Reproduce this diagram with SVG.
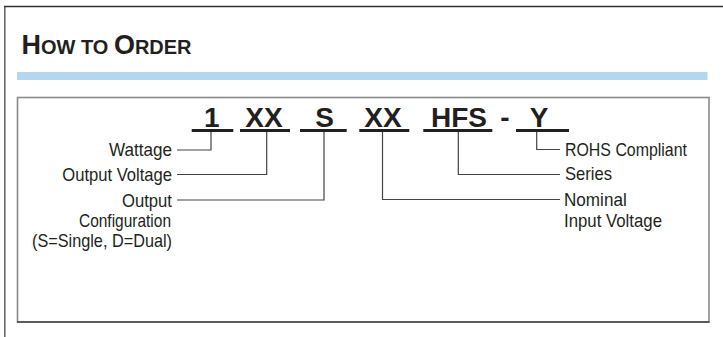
<svg xmlns="http://www.w3.org/2000/svg" width="723" height="337" viewBox="0 0 723 337">
<style>
.lbl{font-family:"Liberation Sans",Arial,sans-serif;font-size:18.5px;fill:#231f20}
.code{font-family:"Liberation Sans",Arial,sans-serif;font-size:28px;font-weight:bold;fill:#231f20;text-anchor:middle}
.ul{stroke:#231f20;stroke-width:3;fill:none}
.con{stroke:#444;stroke-width:1.2;fill:none}
.title{font-family:"Liberation Sans",Arial,sans-serif;font-weight:bold;fill:#231f20}
</style>
<rect width="723" height="337" fill="#fff"/>
<g id="frame">
<line x1="4.8" y1="6" x2="4.8" y2="337" stroke="#666" stroke-width="1.6"/>
<line x1="4" y1="6.5" x2="723" y2="6.5" stroke="#333" stroke-width="1.6"/>
<rect x="17" y="72" width="690.5" height="8" fill="#b3d7ee"/>
<rect x="17.5" y="97.5" width="691.5" height="224.5" fill="none" stroke="#8a8a8a" stroke-width="1.6"/>
<line x1="17" y1="322" x2="709.5" y2="322" stroke="#444" stroke-width="1.4"/>
</g>
<g id="title">
<text class="title" x="21.5" y="54.3" textLength="170" lengthAdjust="spacingAndGlyphs"><tspan font-size="27">H</tspan><tspan font-size="20">OW TO </tspan><tspan font-size="27">O</tspan><tspan font-size="20">RDER</tspan></text>
</g>
<g id="code">
<text class="code" x="211.7" y="126.5">1</text>
<text class="code" x="264" y="126.5">XX</text>
<text class="code" x="324.5" y="126.5">S</text>
<text class="code" x="383" y="126.5">XX</text>
<text class="code" x="459" y="126.5">HFS</text>
<text class="code" x="505" y="126.5">-</text>
<text class="code" x="539" y="126.5">Y</text>
<line class="ul" x1="191.7" y1="130.5" x2="233.3" y2="130.5"/>
<line class="ul" x1="240" y1="130.5" x2="290" y2="130.5"/>
<line class="ul" x1="300" y1="130.5" x2="346.7" y2="130.5"/>
<line class="ul" x1="359.3" y1="130.5" x2="409.3" y2="130.5"/>
<line class="ul" x1="423.3" y1="130.5" x2="492.3" y2="130.5"/>
<line class="ul" x1="516" y1="130.5" x2="569" y2="130.5"/>
</g>
<g id="connectors">
<path class="con" d="M211,132 V150 H177"/>
<path class="con" d="M266.7,132 V174.5 H177"/>
<path class="con" d="M324,132 V200 H177"/>
<path class="con" d="M382.5,132 V199.5 H560"/>
<path class="con" d="M458.3,132 V174.5 H560"/>
<path class="con" d="M536.7,132 V149.5 H560"/>
</g>
<g id="wattage"><text class="lbl" x="172" y="156" text-anchor="end" textLength="63" lengthAdjust="spacingAndGlyphs">Wattage</text></g>
<g id="output-voltage"><text class="lbl" x="172" y="180.5" text-anchor="end" textLength="109.7" lengthAdjust="spacingAndGlyphs">Output Voltage</text></g>
<g id="output-config">
<text class="lbl" x="172" y="206.5" text-anchor="end" textLength="50" lengthAdjust="spacingAndGlyphs">Output</text>
<text class="lbl" x="171" y="226.7" text-anchor="end" textLength="92" lengthAdjust="spacingAndGlyphs">Configuration</text>
<text class="lbl" x="172" y="246.7" text-anchor="end" textLength="140" lengthAdjust="spacingAndGlyphs">(S=Single, D=Dual)</text>
</g>
<g id="rohs"><text class="lbl" x="565" y="155.7" textLength="122" lengthAdjust="spacingAndGlyphs">ROHS Compliant</text></g>
<g id="series"><text class="lbl" x="565" y="180.3" textLength="47" lengthAdjust="spacingAndGlyphs">Series</text></g>
<g id="nominal">
<text class="lbl" x="564" y="206.3" textLength="62.7" lengthAdjust="spacingAndGlyphs">Nominal</text>
<text class="lbl" x="564" y="226.7" textLength="98" lengthAdjust="spacingAndGlyphs">Input Voltage</text>
</g>
</svg>
